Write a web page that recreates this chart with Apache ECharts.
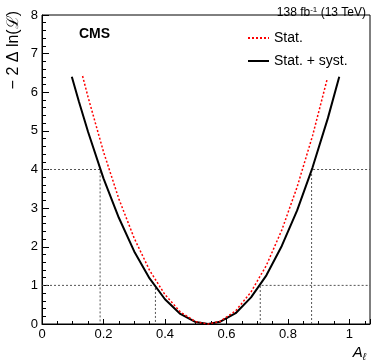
<!DOCTYPE html>
<html>
<head>
<meta charset="utf-8">
<script src="https://cdn.jsdelivr.net/npm/echarts@6/dist/echarts.min.js"></script>
<style>
  html, body { margin: 0; padding: 0; background: #fff; }
  #chart { width: 374px; height: 363px; }
</style>
</head>
<body>
<div id="chart"></div>
<script>
// scan of -2 dln(L) vs A_l
const statSystX = [0.097, 0.12, 0.15, 0.20, 0.25, 0.30, 0.35, 0.40, 0.45, 0.50, 0.54, 0.58, 0.63, 0.68, 0.73, 0.78, 0.83, 0.88, 0.93, 0.967];
const statSystY = [6.40, 5.76, 4.97, 3.77, 2.75, 1.88, 1.18, 0.64, 0.26, 0.05, 0.00, 0.06, 0.28, 0.69, 1.26, 2.02, 2.94, 4.05, 5.33, 6.40];
const statX = [0.132, 0.15, 0.20, 0.25, 0.30, 0.35, 0.40, 0.45, 0.50, 0.54, 0.58, 0.63, 0.68, 0.73, 0.78, 0.83, 0.88, 0.928];
const statY = [6.42, 5.87, 4.46, 3.24, 2.22, 1.39, 0.76, 0.31, 0.06, 0.00, 0.07, 0.34, 0.83, 1.52, 2.43, 3.55, 4.87, 6.35];

// 68% and 95% levels and where the stat+syst curve crosses them
const levels = [1, 4];
const crossLow = [0.369, 0.189];
const crossHigh = [0.710, 0.877];

const xMin = 0, xMax = 1.067;
const yMin = 0, yMax = 8;

const font = "Liberation Sans";

function zip(xs, ys) {
  return xs.map((x, i) => [x, ys[i]]);
}

var chartDom = document.getElementById("chart");
var chart = echarts.init(chartDom, null, { renderer: "canvas" });

let guideSeries = [];
levels.forEach((lv, i) => {
  guideSeries.push({
    name: "guideLow" + i,
    type: "line",
    symbol: "none",
    silent: true,
    data: [[xMin, lv], [crossLow[i], lv], [crossLow[i], 0]],
    lineStyle: { color: "#555", width: 1, type: [2, 2] },
    z: 1,
  });
  guideSeries.push({
    name: "guideHigh" + i,
    type: "line",
    symbol: "none",
    silent: true,
    data: [[crossHigh[i], 0], [crossHigh[i], lv], [xMax, lv]],
    lineStyle: { color: "#555", width: 1, type: [2, 2] },
    z: 1,
  });
});

let option = {
  animation: false,
  textStyle: { fontFamily: font },
  title: [
    {
      text: "138 fb{sup|-1} (13 TeV)",
      right: 3,
      top: 1,
      textStyle: {
        fontFamily: font,
        fontSize: 12,
        fontWeight: "normal",
        color: "#000",
        rich: { sup: { fontSize: 8, verticalAlign: "top", padding: [0, 0, 6, 0], fontFamily: font } },
      },
    },
    {
      text: "CMS",
      left: 74,
      top: 22,
      textStyle: { fontFamily: font, fontSize: 14, fontWeight: "bold", color: "#000" },
    },
  ],
  legend: {
    orient: "vertical",
    left: 242,
    top: 26,
    itemWidth: 21,
    itemHeight: 14,
    itemGap: 9,
    itemStyle: { opacity: 0 },
    data: ["Stat.", "Stat. + syst."],
    textStyle: { fontFamily: font, fontSize: 14, color: "#000" },
  },
  grid: {
    left: 42,
    right: 4,
    top: 15,
    bottom: 39,
    show: true,
    borderColor: "#000",
    borderWidth: 1,
  },
  xAxis: {
    type: "value",
    min: xMin,
    max: xMax,
    interval: 0.2,
    name: "{a|A}{s|ℓ}",
    nameLocation: "end",
    nameGap: -4,
    nameTextStyle: {
      align: "right",
      verticalAlign: "top",
      padding: [20, 0, 0, 0],
      rich: {
        a: { fontFamily: font, fontSize: 15, fontStyle: "italic", color: "#000" },
        s: { fontFamily: font, fontSize: 10, fontStyle: "italic", color: "#000", padding: [8, 0, 0, 0] },
      },
    },
    axisLine: { lineStyle: { color: "#000", width: 1 } },
    axisTick: { inside: true, length: 5, lineStyle: { color: "#000" } },
    minorTick: { show: true, splitNumber: 4, length: 3, lineStyle: { color: "#000" } },
    splitLine: { show: false },
    axisLabel: { fontFamily: font, fontSize: 13, color: "#000", margin: 4, showMaxLabel: false },
  },
  yAxis: {
    type: "value",
    min: yMin,
    max: yMax,
    interval: 1,
    axisLine: { show: true, lineStyle: { color: "#000", width: 1 } },
    axisTick: { show: true, inside: true, length: 7, lineStyle: { color: "#000" } },
    minorTick: { show: true, splitNumber: 5, length: 4, lineStyle: { color: "#000" } },
    splitLine: { show: false },
    axisLabel: { fontFamily: font, fontSize: 13, color: "#000", margin: 4 },
  },
  graphic: [
    {
      type: "text",
      left: 6,
      top: 11,
      rotation: Math.PI / 2,
      style: {
        text: "− 2 Δ ln(ℒ)",
        fontFamily: font,
        fontSize: 16,
        fill: "#000",
      },
    },
  ],
  series: [
    ...guideSeries,
    {
      name: "Stat. + syst.",
      type: "line",
      symbol: "none",
      data: zip(statSystX, statSystY),
      lineStyle: { color: "#000", width: 2 },
      itemStyle: { color: "#000" },
      z: 3,
    },
    {
      name: "Stat.",
      type: "line",
      symbol: "none",
      data: zip(statX, statY),
      lineStyle: { color: "#ff0000", width: 1.5, type: [2, 2] },
      itemStyle: { color: "#ff0000" },
      z: 4,
    },
  ],
};

option && chart.setOption(option);
</script>
</body>
</html>
